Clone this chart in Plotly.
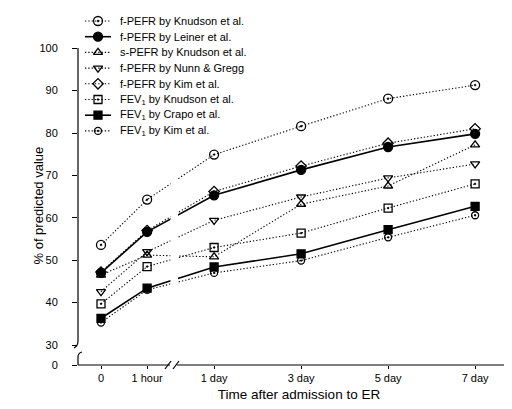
import plotly.graph_objects as go

# ---------------- data ----------------
time_labels = ["0", "1 hour", "1 day", "3 day", "5 day", "7 day"]

series_names = [
    "f-PEFR by Knudson et al.",
    "f-PEFR by Leiner et al.",
    "s-PEFR by Knudson et al.",
    "f-PEFR by Nunn &amp; Gregg",
    "f-PEFR by Kim et al.",
    "FEV<sub>1</sub> by Knudson et al.",
    "FEV<sub>1</sub> by Crapo et al.",
    "FEV<sub>1</sub> by Kim et al.",
]

fpefr_knudson = [53.6, 64.3, 74.9, 81.6, 88.1, 91.3]
fpefr_leiner = [47.0, 56.7, 65.3, 71.3, 76.7, 79.8]
spefr_knudson = [46.5, 51.2, 50.8, 63.2, 67.5, 77.2]
fpefr_nunn = [42.6, 52.0, 59.4, 64.9, 69.4, 72.7]
fpefr_kim = [47.2, 57.0, 66.2, 72.2, 77.6, 81.0]
fev1_knudson = [39.7, 48.5, 53.0, 56.4, 62.3, 68.0]
fev1_crapo = [36.3, 43.4, 48.4, 51.5, 57.2, 62.7]
fev1_kim = [35.3, 43.0, 47.0, 49.9, 55.4, 60.6]

series_values = [fpefr_knudson, fpefr_leiner, spefr_knudson, fpefr_nunn,
                 fpefr_kim, fev1_knudson, fev1_crapo, fev1_kim]

y_tick_vals = [30, 40, 50, 60, 70, 80, 90, 100]

# ---------------- styles / layout constants ----------------
DOT = "1.3px,2px"
symbols = ["circle-open-dot", "circle", "triangle-up-open", "triangle-down-open",
           "diamond-open", "square-open-dot", "square", "circle-open-dot"]
sizes = [9, 9, 8, 8, 8, 8, 8, 7]
dashes = [DOT, "solid", DOT, DOT, DOT, DOT, "solid", DOT]
widths = [1.1, 1.6, 1.1, 1.1, 1.1, 1.1, 1.6, 1.1]

# category positions along the (broken) time axis
x_pos = [0.0, 0.53, 1.30, 2.30, 3.30, 4.30]

W, H = 512, 409
ML, MR, MT, MB = 70, 0, 5, 52
PX_PER_X = 87.0
PX_PER_Y = 4.24
X0_PX = 93.0
Y30_PX = 337.0
plot_w = W - ML - MR
plot_h = H - MT - MB
x_range = [(ML - X0_PX) / PX_PER_X, (W - MR - X0_PX) / PX_PER_X]
y_bottom = 30 - (H - MB - Y30_PX) / PX_PER_Y
y_range = [y_bottom, y_bottom + plot_h / PX_PER_Y]

FONT = "Liberation Sans, Arial, sans-serif"


def pxx(px):
    return (px - ML) / plot_w


def pxy(py):
    return (H - MB - py) / plot_h


fig = go.Figure()

for name, vals, sym, sz, dash, w in zip(series_names, series_values, symbols,
                                         sizes, dashes, widths):
    fig.add_trace(go.Scatter(
        x=x_pos, y=vals, mode="lines+markers", name=name,
        line=dict(color="black", width=w, dash=dash),
        marker=dict(symbol=sym, size=sz, color="black",
                    line=dict(color="black", width=1.3)),
        showlegend=False, cliponaxis=False,
    ))

# ---- hand-built legend (pixel coordinates on hidden overlay axes) ----
row0, row_step = 13.0, 15.7
for i, (name, sym, sz, dash, w) in enumerate(zip(series_names, symbols, sizes,
                                                 dashes, widths)):
    ry = row0 + i * row_step
    fig.add_trace(go.Scatter(
        x=[77, 103], y=[ry, ry], mode="lines", xaxis="x2", yaxis="y2",
        line=dict(color="black", width=w, dash=dash), showlegend=False,
        hoverinfo="skip"))
    fig.add_trace(go.Scatter(
        x=[90], y=[ry], mode="markers", xaxis="x2", yaxis="y2",
        marker=dict(symbol=sym, size=sz, color="black",
                    line=dict(color="black", width=1.3)),
        showlegend=False, hoverinfo="skip", cliponaxis=False))
    fig.add_annotation(x=110, y=ry, xref="x2", yref="y2", text=name,
                       showarrow=False, xanchor="left", yanchor="middle",
                       font=dict(family=FONT, size=11, color="black"))

# ---- axis lines with breaks ----
shapes = []
line_style = dict(color="black", width=1.2)
# white gap cutting the data lines at the break
shapes.append(dict(type="rect", xref="paper", yref="paper", layer="above",
                   x0=pxx(162.5), x1=pxx(170), y0=pxy(352), y1=pxy(40),
                   fillcolor="white", line=dict(width=0)))
# y axis upper part (100 -> 30) with hook
y100 = pxy(40)
shapes.append(dict(type="path", xref="paper", yref="paper", line=line_style,
                   path=f"M {pxx(70)} {y100} L {pxx(70)} {pxy(333)} "
                        f"Q {pxx(70)} {pxy(338)} {pxx(66)} {pxy(340)}"))
# y axis lower part (0) with hook
shapes.append(dict(type="path", xref="paper", yref="paper", line=line_style,
                   path=f"M {pxx(70)} {pxy(357)} L {pxx(70)} {pxy(349)} "
                        f"Q {pxx(70)} {pxy(345)} {pxx(74)} {pxy(344)}"))
# x axis with break
shapes.append(dict(type="line", xref="paper", yref="paper", line=line_style,
                   x0=pxx(70), x1=pxx(162), y0=0, y1=0))
shapes.append(dict(type="line", xref="paper", yref="paper", line=line_style,
                   x0=pxx(169), x1=pxx(512), y0=0, y1=0))
# break slashes
for cx in (160, 168):
    shapes.append(dict(type="line", xref="paper", yref="paper", line=line_style,
                       x0=pxx(cx - 3), y0=pxy(361), x1=pxx(cx + 3), y1=pxy(353)))
fig.update_layout(shapes=shapes)

# y axis title
fig.add_annotation(x=pxx(20), y=pxy(198), xref="paper", yref="paper",
                   text="% of predicted value", textangle=-90, showarrow=False,
                   font=dict(family=FONT, size=13, color="black"))

fig.update_layout(
    width=W, height=H,
    margin=dict(l=ML, r=MR, t=MT, b=MB, pad=0),
    paper_bgcolor="white", plot_bgcolor="white",
    font=dict(family=FONT, size=11, color="black"),
    xaxis=dict(range=x_range, tickvals=x_pos, ticktext=time_labels,
               showgrid=False, zeroline=False, showline=False,
               ticks="outside", ticklen=3, tickwidth=1, tickcolor="black",
               ticklabelstandoff=0,
               tickfont=dict(family=FONT, size=11),
               title=dict(text="Time after admission to ER", standoff=6,
                          font=dict(family=FONT, size=13.5))),
    yaxis=dict(range=y_range, tickvals=[y_bottom] + y_tick_vals,
               ticktext=["0"] + [str(v) for v in y_tick_vals],
               showgrid=False, zeroline=False, showline=False,
               ticks="outside", ticklen=5, tickwidth=1, tickcolor="black",
               ticklabelstandoff=12,
               tickfont=dict(family=FONT, size=11)),
    xaxis2=dict(overlaying="x", range=[ML, W - MR], visible=False,
                fixedrange=True),
    yaxis2=dict(overlaying="y", range=[H - MB, MT], visible=False,
                fixedrange=True),
)

fig.write_html("out.html")
